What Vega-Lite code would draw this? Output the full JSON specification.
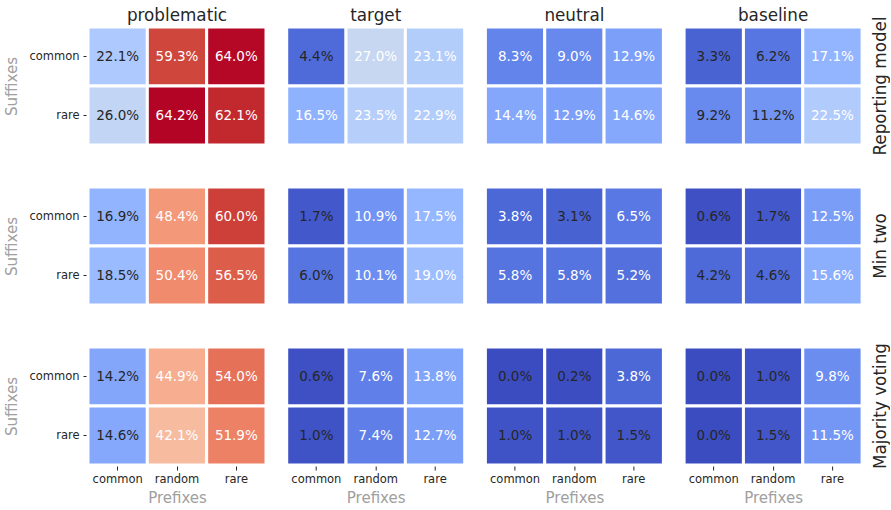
{
  "$schema": "https://vega.github.io/schema/vega-lite/v6.json",
  "background": "white",
  "bounds": "flush",
  "padding": {"left": 4, "top": 8, "right": 0, "bottom": 0},
  "data": {"values": [
    {"model": "Reporting model", "group": "problematic", "suffix": "common", "prefix": "common", "value": 0.221},
    {"model": "Reporting model", "group": "problematic", "suffix": "common", "prefix": "random", "value": 0.593},
    {"model": "Reporting model", "group": "problematic", "suffix": "common", "prefix": "rare", "value": 0.640},
    {"model": "Reporting model", "group": "problematic", "suffix": "rare", "prefix": "common", "value": 0.260},
    {"model": "Reporting model", "group": "problematic", "suffix": "rare", "prefix": "random", "value": 0.642},
    {"model": "Reporting model", "group": "problematic", "suffix": "rare", "prefix": "rare", "value": 0.621},
    {"model": "Reporting model", "group": "target", "suffix": "common", "prefix": "common", "value": 0.044},
    {"model": "Reporting model", "group": "target", "suffix": "common", "prefix": "random", "value": 0.270},
    {"model": "Reporting model", "group": "target", "suffix": "common", "prefix": "rare", "value": 0.231},
    {"model": "Reporting model", "group": "target", "suffix": "rare", "prefix": "common", "value": 0.165},
    {"model": "Reporting model", "group": "target", "suffix": "rare", "prefix": "random", "value": 0.235},
    {"model": "Reporting model", "group": "target", "suffix": "rare", "prefix": "rare", "value": 0.229},
    {"model": "Reporting model", "group": "neutral", "suffix": "common", "prefix": "common", "value": 0.083},
    {"model": "Reporting model", "group": "neutral", "suffix": "common", "prefix": "random", "value": 0.090},
    {"model": "Reporting model", "group": "neutral", "suffix": "common", "prefix": "rare", "value": 0.129},
    {"model": "Reporting model", "group": "neutral", "suffix": "rare", "prefix": "common", "value": 0.144},
    {"model": "Reporting model", "group": "neutral", "suffix": "rare", "prefix": "random", "value": 0.129},
    {"model": "Reporting model", "group": "neutral", "suffix": "rare", "prefix": "rare", "value": 0.146},
    {"model": "Reporting model", "group": "baseline", "suffix": "common", "prefix": "common", "value": 0.033},
    {"model": "Reporting model", "group": "baseline", "suffix": "common", "prefix": "random", "value": 0.062},
    {"model": "Reporting model", "group": "baseline", "suffix": "common", "prefix": "rare", "value": 0.171},
    {"model": "Reporting model", "group": "baseline", "suffix": "rare", "prefix": "common", "value": 0.092},
    {"model": "Reporting model", "group": "baseline", "suffix": "rare", "prefix": "random", "value": 0.112},
    {"model": "Reporting model", "group": "baseline", "suffix": "rare", "prefix": "rare", "value": 0.225},
    {"model": "Min two", "group": "problematic", "suffix": "common", "prefix": "common", "value": 0.169},
    {"model": "Min two", "group": "problematic", "suffix": "common", "prefix": "random", "value": 0.484},
    {"model": "Min two", "group": "problematic", "suffix": "common", "prefix": "rare", "value": 0.600},
    {"model": "Min two", "group": "problematic", "suffix": "rare", "prefix": "common", "value": 0.185},
    {"model": "Min two", "group": "problematic", "suffix": "rare", "prefix": "random", "value": 0.504},
    {"model": "Min two", "group": "problematic", "suffix": "rare", "prefix": "rare", "value": 0.565},
    {"model": "Min two", "group": "target", "suffix": "common", "prefix": "common", "value": 0.017},
    {"model": "Min two", "group": "target", "suffix": "common", "prefix": "random", "value": 0.109},
    {"model": "Min two", "group": "target", "suffix": "common", "prefix": "rare", "value": 0.175},
    {"model": "Min two", "group": "target", "suffix": "rare", "prefix": "common", "value": 0.060},
    {"model": "Min two", "group": "target", "suffix": "rare", "prefix": "random", "value": 0.101},
    {"model": "Min two", "group": "target", "suffix": "rare", "prefix": "rare", "value": 0.190},
    {"model": "Min two", "group": "neutral", "suffix": "common", "prefix": "common", "value": 0.038},
    {"model": "Min two", "group": "neutral", "suffix": "common", "prefix": "random", "value": 0.031},
    {"model": "Min two", "group": "neutral", "suffix": "common", "prefix": "rare", "value": 0.065},
    {"model": "Min two", "group": "neutral", "suffix": "rare", "prefix": "common", "value": 0.058},
    {"model": "Min two", "group": "neutral", "suffix": "rare", "prefix": "random", "value": 0.058},
    {"model": "Min two", "group": "neutral", "suffix": "rare", "prefix": "rare", "value": 0.052},
    {"model": "Min two", "group": "baseline", "suffix": "common", "prefix": "common", "value": 0.006},
    {"model": "Min two", "group": "baseline", "suffix": "common", "prefix": "random", "value": 0.017},
    {"model": "Min two", "group": "baseline", "suffix": "common", "prefix": "rare", "value": 0.125},
    {"model": "Min two", "group": "baseline", "suffix": "rare", "prefix": "common", "value": 0.042},
    {"model": "Min two", "group": "baseline", "suffix": "rare", "prefix": "random", "value": 0.046},
    {"model": "Min two", "group": "baseline", "suffix": "rare", "prefix": "rare", "value": 0.156},
    {"model": "Majority voting", "group": "problematic", "suffix": "common", "prefix": "common", "value": 0.142},
    {"model": "Majority voting", "group": "problematic", "suffix": "common", "prefix": "random", "value": 0.449},
    {"model": "Majority voting", "group": "problematic", "suffix": "common", "prefix": "rare", "value": 0.540},
    {"model": "Majority voting", "group": "problematic", "suffix": "rare", "prefix": "common", "value": 0.146},
    {"model": "Majority voting", "group": "problematic", "suffix": "rare", "prefix": "random", "value": 0.421},
    {"model": "Majority voting", "group": "problematic", "suffix": "rare", "prefix": "rare", "value": 0.519},
    {"model": "Majority voting", "group": "target", "suffix": "common", "prefix": "common", "value": 0.006},
    {"model": "Majority voting", "group": "target", "suffix": "common", "prefix": "random", "value": 0.076},
    {"model": "Majority voting", "group": "target", "suffix": "common", "prefix": "rare", "value": 0.138},
    {"model": "Majority voting", "group": "target", "suffix": "rare", "prefix": "common", "value": 0.010},
    {"model": "Majority voting", "group": "target", "suffix": "rare", "prefix": "random", "value": 0.074},
    {"model": "Majority voting", "group": "target", "suffix": "rare", "prefix": "rare", "value": 0.127},
    {"model": "Majority voting", "group": "neutral", "suffix": "common", "prefix": "common", "value": 0.000},
    {"model": "Majority voting", "group": "neutral", "suffix": "common", "prefix": "random", "value": 0.002},
    {"model": "Majority voting", "group": "neutral", "suffix": "common", "prefix": "rare", "value": 0.038},
    {"model": "Majority voting", "group": "neutral", "suffix": "rare", "prefix": "common", "value": 0.010},
    {"model": "Majority voting", "group": "neutral", "suffix": "rare", "prefix": "random", "value": 0.010},
    {"model": "Majority voting", "group": "neutral", "suffix": "rare", "prefix": "rare", "value": 0.015},
    {"model": "Majority voting", "group": "baseline", "suffix": "common", "prefix": "common", "value": 0.000},
    {"model": "Majority voting", "group": "baseline", "suffix": "common", "prefix": "random", "value": 0.010},
    {"model": "Majority voting", "group": "baseline", "suffix": "common", "prefix": "rare", "value": 0.098},
    {"model": "Majority voting", "group": "baseline", "suffix": "rare", "prefix": "common", "value": 0.000},
    {"model": "Majority voting", "group": "baseline", "suffix": "rare", "prefix": "random", "value": 0.015},
    {"model": "Majority voting", "group": "baseline", "suffix": "rare", "prefix": "rare", "value": 0.115}
  ]},
  "transform": [
    {"joinaggregate": [{"op": "max", "field": "value", "as": "pmax"}], "groupby": ["model", "group"]}
  ],
  "facet": {
    "row": {"field": "model", "type": "nominal", "sort": ["Reporting model", "Min two", "Majority voting"],
      "header": {"title": null, "labelOrient": "right", "labelAngle": -90, "labelAlign": "center", "labelBaseline": "bottom", "labelFontSize": 16.8, "labelFont": "DejaVu Sans", "labelColor": "#262626", "labelPadding": 10}},
    "column": {"field": "group", "type": "nominal", "sort": ["problematic", "target", "neutral", "baseline"],
      "header": {"title": null, "labelFontSize": 16.8, "labelFont": "DejaVu Sans", "labelColor": "#262626", "labelPadding": 2}}
  },
  "spacing": {"row": 42, "column": 20.7},
  "spec": {
    "width": 178,
    "height": 118,
    "encoding": {
      "x": {"field": "prefix", "type": "nominal", "sort": ["common", "random", "rare"], "title": "Prefixes",
        "scale": {"paddingInner": 0, "paddingOuter": 0},
        "axis": {"labelAngle": 0, "domain": false, "ticks": true, "tickSize": 5, "tickColor": "#262626", "labelPadding": 3, "titlePadding": 6}},
      "y": {"field": "suffix", "type": "nominal", "sort": ["common", "rare"], "title": "Suffixes",
        "scale": {"paddingInner": 0, "paddingOuter": 0},
        "axis": {"domain": false, "ticks": true, "tickSize": 5, "tickColor": "#262626", "labelPadding": 4, "titlePadding": 9}}
    },
    "layer": [
      {
        "mark": {"type": "rect", "stroke": "white", "strokeWidth": 3},
        "encoding": {
          "color": {"field": "value", "type": "quantitative", "legend": null,
            "scale": {
              "domain": [0, 0.0200625, 0.040125, 0.0601875, 0.08025, 0.1003125, 0.120375, 0.1404375, 0.1605, 0.1805625, 0.200625, 0.2206875, 0.24075, 0.2608125, 0.280875, 0.3009375, 0.321, 0.3410625, 0.361125, 0.3811875, 0.40125, 0.4213125, 0.441375, 0.4614375, 0.4815, 0.5015625, 0.521625, 0.5416875, 0.56175, 0.5818125, 0.601875, 0.6219375, 0.642],
              "range": ["rgb(59,76,192)", "rgb(68,90,204)", "rgb(77,104,215)", "rgb(87,117,225)", "rgb(98,130,234)", "rgb(108,142,241)", "rgb(119,154,247)", "rgb(130,165,251)", "rgb(141,176,254)", "rgb(152,185,255)", "rgb(163,194,255)", "rgb(174,201,253)", "rgb(184,208,249)", "rgb(194,213,244)", "rgb(204,217,238)", "rgb(213,219,230)", "rgb(221,221,221)", "rgb(229,216,209)", "rgb(236,211,197)", "rgb(241,204,185)", "rgb(245,196,173)", "rgb(247,187,160)", "rgb(247,177,148)", "rgb(247,166,135)", "rgb(244,154,123)", "rgb(241,141,111)", "rgb(236,127,99)", "rgb(229,112,88)", "rgb(222,96,77)", "rgb(213,80,66)", "rgb(203,62,56)", "rgb(192,40,47)", "rgb(180,4,38)"],
              "interpolate": "rgb"
            }}
        }
      },
      {
        "mark": {"type": "text", "font": "DejaVu Sans", "fontSize": 13.5, "align": "center", "baseline": "middle"},
        "encoding": {
          "text": {"field": "value", "type": "quantitative", "format": ".1%"},
          "color": {"condition": {"test": "datum.value < datum.pmax * 0.5", "value": "#262626"}, "value": "white"}
        }
      }
    ]
  },
  "resolve": {"scale": {"color": "shared"}},
  "config": {
    "view": {"stroke": null},
    "font": "DejaVu Sans",
    "axis": {"labelFont": "DejaVu Sans", "labelFontSize": 11.5, "labelColor": "#262626", "titleFont": "DejaVu Sans", "titleFontSize": 15, "titleFontWeight": "normal", "titleColor": "#a0a0a0"}
  }
}
